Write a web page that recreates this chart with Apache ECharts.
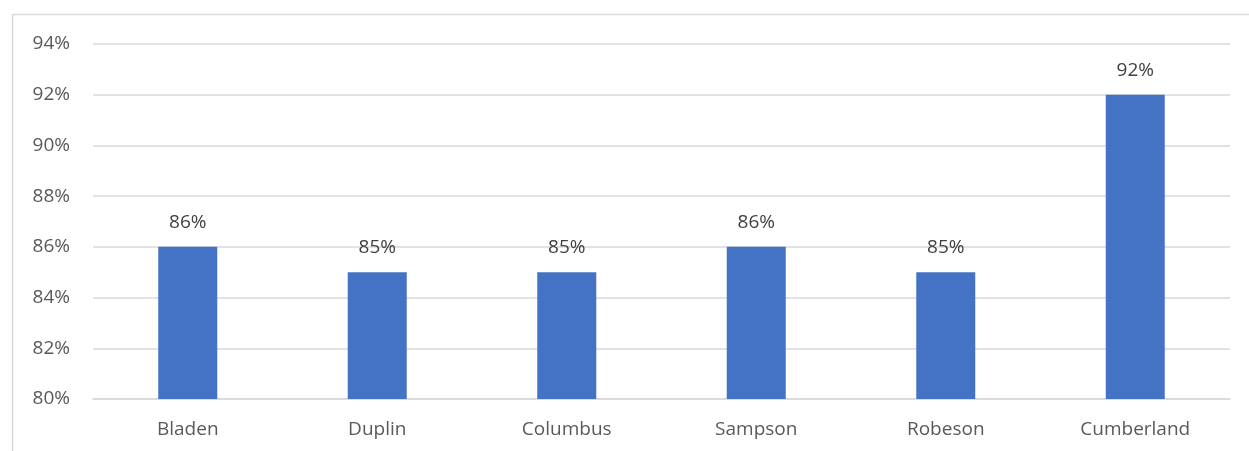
<!DOCTYPE html>
<html>
<head>
<meta charset="utf-8">
<script src="https://cdn.jsdelivr.net/npm/echarts@6/dist/echarts.min.js"></script>
<style>
  html, body { margin: 0; padding: 0; background: #fff; }
  #chart { width: 1249px; height: 451px; }
</style>
</head>
<body>
<div id="chart"></div>
<script>
var counties = ['Bladen', 'Duplin', 'Columbus', 'Sampson', 'Robeson', 'Cumberland'];
var rates = [86, 85, 85, 86, 85, 92];

var myChart = echarts.init(document.getElementById('chart'));

var option = {
    animation: false,
    textStyle: { fontFamily: 'Open Sans' },
    graphic: [{
        type: 'rect',
        shape: { x: 12.5, y: 14.5, width: 1300, height: 500 },
        style: { fill: 'none', stroke: '#d9d9d9', lineWidth: 1.5 },
        silent: true
    }],
    grid: { left: 93, right: 19, top: 44, bottom: 52 },
    xAxis: {
        type: 'category',
        data: counties,
        axisLine: { lineStyle: { color: '#d9d9d9', width: 1.5 } },
        axisTick: { show: false },
        axisLabel: { color: '#595959', fontSize: 19, margin: 21 }
    },
    yAxis: {
        type: 'value',
        min: 80,
        max: 94,
        interval: 2,
        axisLine: { show: false },
        axisTick: { show: false },
        splitLine: { lineStyle: { color: '#d9d9d9', width: 1.5 } },
        axisLabel: { color: '#595959', fontSize: 19, margin: 23, formatter: '{value}%' }
    },
    series: [{
        type: 'bar',
        data: rates,
        barWidth: 59,
        itemStyle: { color: '#4472C4' },
        label: {
            show: true,
            position: 'top',
            distance: 15,
            color: '#404040',
            fontSize: 19,
            formatter: '{c}%'
        }
    }]
};

myChart.setOption(option);
</script>
</body>
</html>
